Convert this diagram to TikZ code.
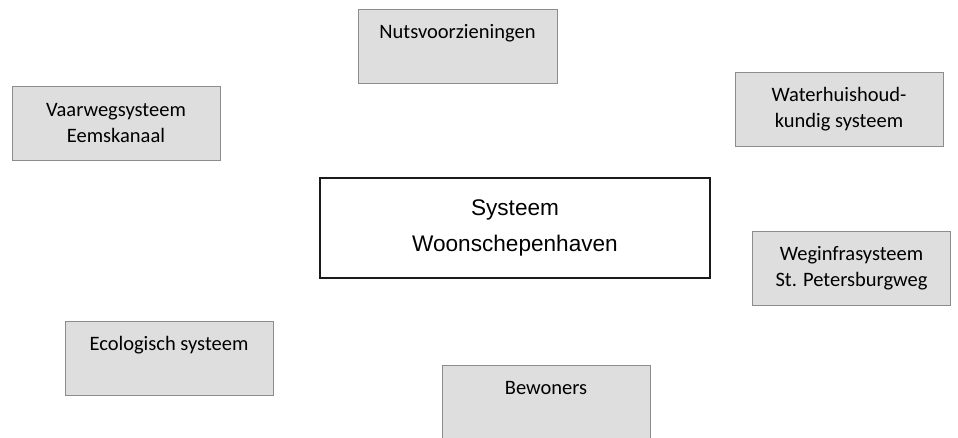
\documentclass[tikz,border=0pt]{standalone}
\usepackage{fontspec}
\setmainfont{Carlito}
\newfontfamily\arialfont{Liberation Sans}
\usetikzlibrary{positioning}
\definecolor{vlakgrijs}{HTML}{DEDEDE}
\definecolor{randgrijs}{HTML}{8C8C8C}
\definecolor{kernzwart}{HTML}{1A1A1A}

\begin{document}
\begin{tikzpicture}[x=1pt, y=-1pt,
    grijs/.style={rectangle, fill=vlakgrijs, draw=randgrijs, line width=0.8pt,
      minimum width=208pt, minimum height=74pt, align=center,
      font=\fontsize{20.5}{26}\selectfont, inner sep=0pt},
    enkel/.style={text depth=29pt},
    kern/.style={rectangle, draw=kernzwart, line width=1.4pt,
      minimum width=390pt, minimum height=100pt, align=center,
      font=\arialfont\fontsize{22.6}{36}\selectfont, inner sep=0pt}]
    \useasboundingbox (0,0) rectangle (958,437);
    \node[kern] (kernsysteem) at (515,228) {Systeem\\Woonschepenhaven};
    \node[grijs, enkel, minimum width=199pt] (nuts) at (457.5,46) {Nutsvoorzieningen};
    \node[grijs] (vaarweg) at (116,123) {Vaarwegsysteem\\Eemskanaal};
    \node[grijs] (water) at (839,109.5) {Waterhuishoud-\\kundig systeem};
    \node[grijs, minimum width=198pt] (weg) at (851.5,268.5) {Weginfrasysteem\\St. Petersburgweg};
    \node[grijs, enkel] (eco) at (169,358) {Ecologisch systeem};
    \node[grijs, enkel] (bewoners) at (546,402) {Bewoners};
  \end{tikzpicture}
\end{document}
